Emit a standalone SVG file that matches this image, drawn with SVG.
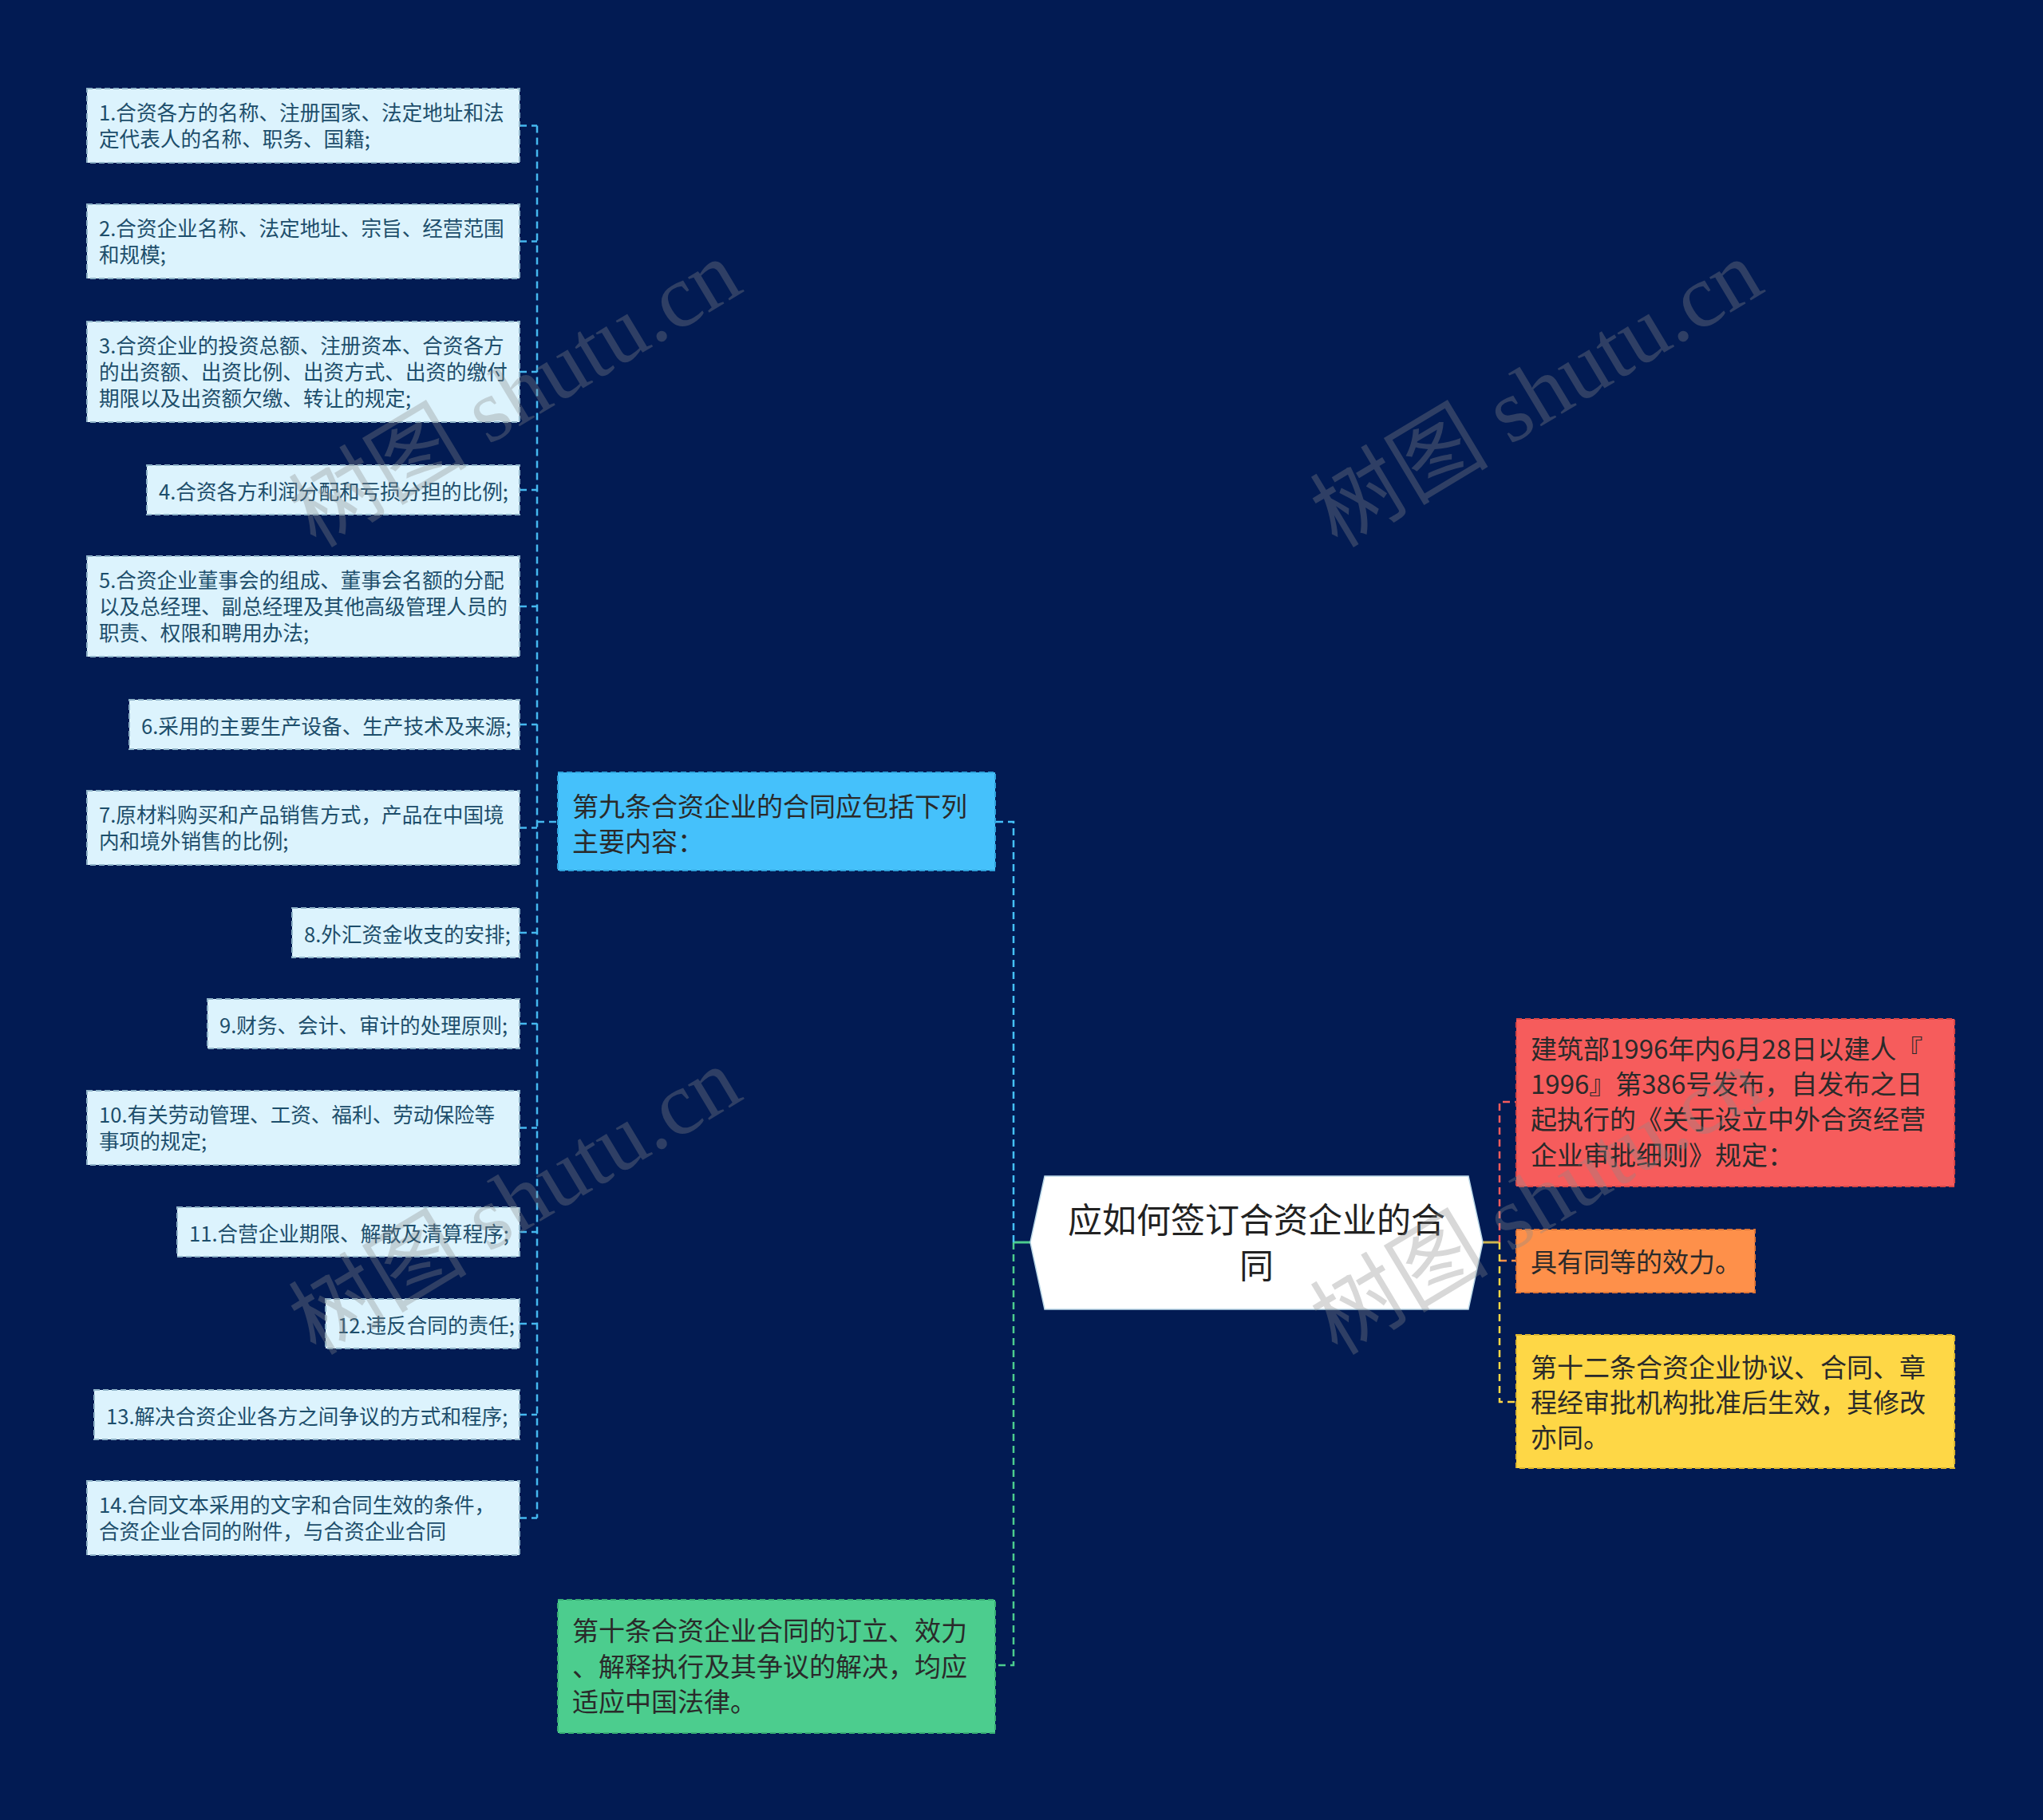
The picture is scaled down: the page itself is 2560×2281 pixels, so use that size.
<svg xmlns="http://www.w3.org/2000/svg" width="2560" height="2281" viewBox="0 0 2560 2281">
<style>
.leaf rect{fill:#dcf3fd;stroke:#8fb3c8;stroke-width:2;stroke-dasharray:7 4}
.leaf text{font-family:"Noto Sans CJK SC","Liberation Sans",sans-serif;font-size:25.6px;fill:#1d4e6b}
.main text{font-family:"Noto Sans CJK SC","Liberation Sans",sans-serif;font-size:33px;fill:#2a2a2a}
.nd{stroke-width:2;stroke-dasharray:7 4}
.c{fill:none;stroke-width:2.5;stroke-dasharray:9 6}
.wm{font-family:"Liberation Serif","Noto Sans CJK SC",serif;font-size:112px;fill:#8a8a8a;opacity:0.33}
</style>
<rect width="2560" height="2281" fill="#021b53"/>

<g id="connectors">
  <path class="c" stroke="#45b8ef" d="M673 157.5V1902.5M651 157.5H673M651 302.5H673M651 466H673M651 614H673M651 760H673M651 908H673M651 1037.5H673M651 1169H673M651 1283H673M651 1413.5H673M651 1544H673M651 1659H673M651 1773H673M651 1902.5H673M673 1030H699"/>
  <path d="M1291 1557H1270" stroke="#4ccd8e" stroke-width="3" fill="none"/>
  <path class="c" stroke="#45c1fb" d="M1270 1557V1030H1247"/>
  <path class="c" stroke="#4ccd8e" d="M1270 1557V2087H1247"/>
  <path d="M1858 1557H1879" stroke="#cdb44e" stroke-width="3" fill="none"/>
  <path class="c" stroke="#f65c5c" d="M1879 1557V1381H1900"/>
  <path class="c" stroke="#fe904a" d="M1879 1580H1900"/>
  <path class="c" stroke="#fed746" d="M1879 1557V1757H1900"/>
</g>

<g id="leaf1" class="leaf"><rect x="109" y="111" width="542" height="93"/><text x="124" y="151">1.合资各方的名称、注册国家、法定地址和法</text><text x="124" y="184">定代表人的名称、职务、国籍;</text></g>
<g id="leaf2" class="leaf"><rect x="109" y="256" width="542" height="93"/><text x="124" y="296">2.合资企业名称、法定地址、宗旨、经营范围</text><text x="124" y="329">和规模;</text></g>
<g id="leaf3" class="leaf"><rect x="109" y="403" width="542" height="126"/><text x="124" y="443">3.合资企业的投资总额、注册资本、合资各方</text><text x="124" y="476">的出资额、出资比例、出资方式、出资的缴付</text><text x="124" y="509">期限以及出资额欠缴、转让的规定;</text></g>
<g id="leaf4" class="leaf"><rect x="184" y="583" width="467" height="62"/><text x="199" y="626">4.合资各方利润分配和亏损分担的比例;</text></g>
<g id="leaf5" class="leaf"><rect x="109" y="697" width="542" height="126"/><text x="124" y="737">5.合资企业董事会的组成、董事会名额的分配</text><text x="124" y="770">以及总经理、副总经理及其他高级管理人员的</text><text x="124" y="803">职责、权限和聘用办法;</text></g>
<g id="leaf6" class="leaf"><rect x="162" y="877" width="489" height="62"/><text x="177" y="920">6.采用的主要生产设备、生产技术及来源;</text></g>
<g id="leaf7" class="leaf"><rect x="109" y="991" width="542" height="93"/><text x="124" y="1031">7.原材料购买和产品销售方式，产品在中国境</text><text x="124" y="1064">内和境外销售的比例;</text></g>
<g id="leaf8" class="leaf"><rect x="366" y="1138" width="285" height="62"/><text x="381" y="1181">8.外汇资金收支的安排;</text></g>
<g id="leaf9" class="leaf"><rect x="260" y="1252" width="391" height="62"/><text x="275" y="1295">9.财务、会计、审计的处理原则;</text></g>
<g id="leaf10" class="leaf"><rect x="109" y="1367" width="542" height="93"/><text x="124" y="1407">10.有关劳动管理、工资、福利、劳动保险等</text><text x="124" y="1440">事项的规定;</text></g>
<g id="leaf11" class="leaf"><rect x="222" y="1513" width="429" height="62"/><text x="237" y="1556">11.合营企业期限、解散及清算程序;</text></g>
<g id="leaf12" class="leaf"><rect x="408" y="1628" width="243" height="62"/><text x="423" y="1671">12.违反合同的责任;</text></g>
<g id="leaf13" class="leaf"><rect x="118" y="1742" width="533" height="62"/><text x="133" y="1785">13.解决合资企业各方之间争议的方式和程序;</text></g>
<g id="leaf14" class="leaf"><rect x="109" y="1856" width="542" height="93"/><text x="124" y="1896">14.合同文本采用的文字和合同生效的条件，</text><text x="124" y="1929">合资企业合同的附件，与合资企业合同</text></g>

<g id="n9" class="main"><rect class="nd" x="699" y="968" width="548" height="123" fill="#45c1fb" stroke="#2fa3dc"/><text x="717" y="1023">第九条合资企业的合同应包括下列</text><text x="717" y="1067">主要内容：</text></g>
<g id="n10" class="main"><rect class="nd" x="699" y="2005" width="548" height="167" fill="#4ccd8e" stroke="#37ad74"/><text x="717" y="2056">第十条合资企业合同的订立、效力</text><text x="717" y="2101">、解释执行及其争议的解决，均应</text><text x="717" y="2145">适应中国法律。</text></g>

<g id="root"><polygon points="1291,1557 1309,1474 1840,1474 1858,1557 1840,1641 1309,1641" fill="#ffffff" stroke="#b8d6e6" stroke-width="1.5"/><text x="1574.5" y="1545" text-anchor="middle" font-family="Noto Sans CJK SC, Liberation Sans, sans-serif" font-size="43" fill="#222">应如何签订合资企业的合</text><text x="1574.5" y="1602" text-anchor="middle" font-family="Noto Sans CJK SC, Liberation Sans, sans-serif" font-size="43" fill="#222">同</text></g>

<g id="r1" class="main"><rect class="nd" x="1900" y="1277" width="549" height="210" fill="#f65c5c" stroke="#d84545"/><text x="1918" y="1327">建筑部1996年内6月28日以建人『</text><text x="1918" y="1371">1996』第386号发布，自发布之日</text><text x="1918" y="1415">起执行的《关于设立中外合资经营</text><text x="1918" y="1460">企业审批细则》规定：</text></g>
<g id="r2" class="main"><rect class="nd" x="1900" y="1541" width="299" height="79" fill="#fe904a" stroke="#df7434"/><text x="1918" y="1594">具有同等的效力。</text></g>
<g id="r3" class="main"><rect class="nd" x="1900" y="1673" width="549" height="167" fill="#fed746" stroke="#dcb62f"/><text x="1918" y="1726">第十二条合资企业协议、合同、章</text><text x="1918" y="1770">程经审批机构批准后生效，其修改</text><text x="1918" y="1814">亦同。</text></g>

<g id="watermarks">
<text class="wm" x="665" y="526" text-anchor="middle" transform="rotate(-31 665 526)">树图 shutu.cn</text>
<text class="wm" x="1945" y="526" text-anchor="middle" transform="rotate(-31 1945 526)">树图 shutu.cn</text>
<text class="wm" x="665" y="1538" text-anchor="middle" transform="rotate(-31 665 1538)">树图 shutu.cn</text>
<text class="wm" x="1945" y="1538" text-anchor="middle" transform="rotate(-31 1945 1538)">树图 shutu.cn</text>
</g>
</svg>
